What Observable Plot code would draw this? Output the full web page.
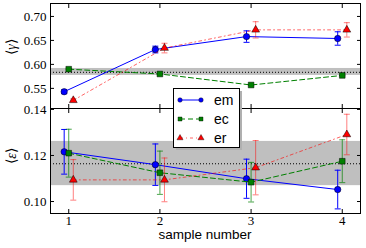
<!DOCTYPE html>
<html><head><meta charset="utf-8">
<script src="https://cdn.jsdelivr.net/npm/d3@7"></script>
<script src="https://cdn.jsdelivr.net/npm/@observablehq/plot@0.6"></script>
<style>
body{margin:0;background:#fff;}
#chart{position:relative;width:366px;height:248px;overflow:hidden;background:#fff;}
#chart > svg, #chart > div{position:absolute;}
.ylab{font-family:'Liberation Serif',serif;font-size:14px;white-space:nowrap;transform:translate(-50%,-50%) rotate(-90deg);line-height:1;}
.xlab{font-family:'Liberation Sans',Arial,sans-serif;font-size:13.5px;white-space:nowrap;transform:translate(-50%,-50%);line-height:1;}
</style></head><body><div id="chart"></div>
<script>
// ---- data ----
const samples = [1, 2, 3, 4];
const seriesNames = ["em", "ec", "er"];
const gammaEm    = [0.543, 0.631, 0.658, 0.654];
const gammaEmErr = [0.004, 0.007, 0.012, 0.014];
const gammaEc    = [0.590, 0.580, 0.557, 0.577];
const gammaEcErr = [0.001, 0.001, 0.001, 0.001];
const gammaEr    = [0.525, 0.634, 0.672, 0.672];
const gammaErErr = [0.003, 0.010, 0.017, 0.015];
const epsEm      = [0.1216, 0.1160, 0.1099, 0.1052];
const epsEmErr   = [0.0097, 0.0090, 0.0085, 0.0084];
const epsEc      = [0.1210, 0.1125, 0.1084, 0.1175];
const epsEcErr   = [0.0104, 0.0094, 0.0086, 0.0093];
const epsEr      = [0.1094, 0.1094, 0.1147, 0.1291];
const epsErErr   = [0.0088, 0.0095, 0.0118, 0.0088];
const gammaBand  = [0.577, 0.5915];
const gammaMean  = 0.5835;
const epsBand    = [0.1069, 0.1261];
const epsMean    = 0.1164;
const gammaTicks = [0.55, 0.60, 0.65, 0.70];
const epsTicks   = [0.10, 0.12, 0.14];

// ---- styles ----
const styles = {
  em: {color: "#0000ff", dash: null, lineOpacity: 1, errOpacity: 1, symbol: "circle", r: 3.2},
  ec: {color: "#008000", dash: "5,3", lineOpacity: 1, errOpacity: 0.7, symbol: "square", r: 3.2},
  er: {color: "#ff0000", dash: "3,3,1,3", lineOpacity: 0.6, errOpacity: 0.5, symbol: "triangle", r: 2.9}
};
const offsets = {em: -0.05, ec: 0, er: 0.05};
const cap = {draw(ctx) { ctx.moveTo(-3, 0); ctx.lineTo(3, 0); }};

function rows(name, vals, errs) {
  return samples.map((s, j) => ({series: name, x: s + offsets[name], y: vals[j], lo: vals[j] - errs[j], hi: vals[j] + errs[j]}));
}

function seriesMarks(d, name) {
  const st = styles[name];
  return [
    Plot.line(d, {x: "x", y: "y", stroke: st.color, strokeWidth: 1, strokeDasharray: st.dash, strokeOpacity: st.lineOpacity}),
    Plot.ruleX(d, {x: "x", y1: "lo", y2: "hi", stroke: st.color, strokeWidth: 1, strokeOpacity: st.errOpacity}),
    Plot.dot(d, {x: "x", y: "lo", symbol: cap, stroke: st.color, strokeWidth: 1, strokeOpacity: st.errOpacity, fill: "none"}),
    Plot.dot(d, {x: "x", y: "hi", symbol: cap, stroke: st.color, strokeWidth: 1, strokeOpacity: st.errOpacity, fill: "none"}),
    Plot.dot(d, {x: "x", y: "y", symbol: st.symbol, r: st.r, fill: st.color, stroke: "#000", strokeWidth: 0.5})
  ];
}

function panel({series, band, mean, ticks, domain, height, marginTop, marginBottom, showX}) {
  return Plot.plot({
    width: 366, height, marginLeft: 50, marginRight: 6, marginTop, marginBottom,
    x: {domain: [0.8, 4.2]},
    y: {domain},
    style: {fontFamily: "'Liberation Serif', serif", fontSize: "13px", background: "transparent", overflow: "visible"},
    marks: [
      Plot.rect([band], {y1: d => d[0], y2: d => d[1], fill: "#bfbfbf"}),
      Plot.ruleY([mean], {stroke: "#000", strokeWidth: 1, strokeDasharray: "1,2"}),
      ...series.flatMap(([name, d]) => seriesMarks(d, name)),
      Plot.frame({stroke: "#000", strokeWidth: 1}),
      Plot.axisY(ticks, {anchor: "left", tickSize: -4, tickPadding: 8, tickFormat: d3.format(".2f"), label: null}),
      Plot.axisY(ticks, {anchor: "right", tickSize: -4, tickFormat: () => "", label: null}),
      Plot.axisX(samples, {anchor: "top", tickSize: -4, tickFormat: () => "", label: null}),
      Plot.axisX(samples, {anchor: "bottom", tickSize: -4, tickPadding: 6, tickFormat: showX ? (d => String(d)) : (() => ""), label: null})
    ]
  });
}

const chart = document.getElementById("chart");

const topPanel = panel({
  series: [["em", rows("em", gammaEm, gammaEmErr)], ["ec", rows("ec", gammaEc, gammaEcErr)], ["er", rows("er", gammaEr, gammaErErr)]],
  band: gammaBand, mean: gammaMean, ticks: gammaTicks, domain: [0.508, 0.727],
  height: 108, marginTop: 3, marginBottom: 0, showX: false
});
topPanel.style.top = "0px"; topPanel.style.left = "0px";
chart.appendChild(topPanel);

const bottomPanel = panel({
  series: [["em", rows("em", epsEm, epsEmErr)], ["ec", rows("ec", epsEc, epsEcErr)], ["er", rows("er", epsEr, epsErErr)]],
  band: epsBand, mean: epsMean, ticks: epsTicks, domain: [0.0948, 0.1404],
  height: 140, marginTop: 0, marginBottom: 35, showX: true
});
bottomPanel.style.top = "108px"; bottomPanel.style.left = "0px";
chart.appendChild(bottomPanel);

// axis labels
function addLabel(cls, html, x, y) {
  const el = document.createElement("div");
  el.className = cls; el.innerHTML = html;
  el.style.left = x + "px"; el.style.top = y + "px";
  chart.appendChild(el);
}
addLabel("ylab", "⟨<i>γ</i>⟩", 12, 47);
addLabel("ylab", "⟨<i>ε</i>⟩", 12, 156);
addLabel("xlab", "sample number", 205, 235);

// legend
const leg = d3.select(chart).append("svg")
  .attr("width", 366).attr("height", 248)
  .style("left", "0px").style("top", "0px").style("overflow", "visible");
leg.append("rect").attr("x", 176).attr("y", 91).attr("width", 66).attr("height", 59).attr("fill", "#b0b0b0");
leg.append("rect").attr("x", 173.5).attr("y", 88.5).attr("width", 66).attr("height", 59).attr("fill", "#fff").attr("stroke", "#000").attr("stroke-width", 1);
const symType = {circle: d3.symbolCircle, square: d3.symbolSquare, triangle: d3.symbolTriangle};
seriesNames.forEach((name, i) => {
  const st = styles[name];
  const y = 100 + i * 19;
  const g = leg.append("g");
  g.append("line").attr("x1", 180).attr("x2", 201).attr("y1", y).attr("y2", y)
    .attr("stroke", st.color).attr("stroke-opacity", st.lineOpacity).attr("stroke-dasharray", st.dash);
  [180, 201].forEach(x => {
    g.append("path").attr("d", d3.symbol(symType[st.symbol], 16)())
      .attr("transform", `translate(${x},${y})`).attr("fill", st.color).attr("stroke", "#000").attr("stroke-width", 0.4);
  });
  g.append("text").attr("x", 214).attr("y", y + 5).text(name)
    .attr("font-family", "'Liberation Sans', Arial, sans-serif").attr("font-size", 14).attr("fill", "#000");
});
</script></body></html>
